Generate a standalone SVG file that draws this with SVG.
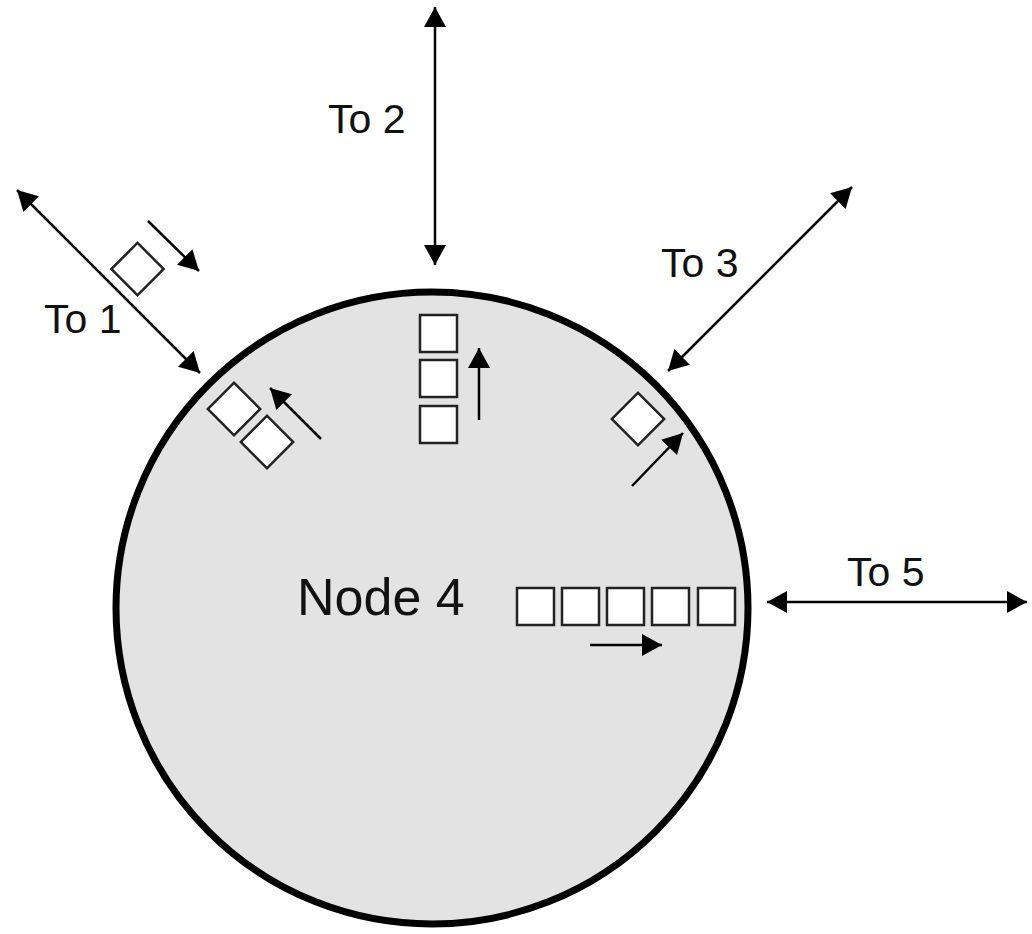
<svg xmlns="http://www.w3.org/2000/svg" width="1032" height="934" viewBox="0 0 1032 934">
<defs>
<marker id="ah" viewBox="0 0 20 22" refX="20" refY="11" markerWidth="20" markerHeight="22" markerUnits="userSpaceOnUse" orient="auto-start-reverse">
<path d="M0,0 L20,11 L0,22 z" fill="#000"/>
</marker>
<style>
.lbl{font-family:"Liberation Sans",Arial,sans-serif;font-size:41px;fill:#111}
.node{font-family:"Liberation Sans",Arial,sans-serif;font-size:52px;fill:#111}
.conn{stroke:#000;stroke-width:2.5;fill:none}
.pkt{fill:#fff;stroke:#222;stroke-width:2.5}
</style>
</defs>
<rect width="1032" height="934" fill="#fff"/>
<g id="node4">
<circle cx="432" cy="608" r="316" fill="#e3e3e3" stroke="#000" stroke-width="7"/>
<text class="node" x="297" y="615">Node 4</text>
</g>
<g id="queue1">
<rect class="pkt" x="-18.5" y="-18.5" width="37" height="37" transform="translate(234 409) rotate(45)"/>
<rect class="pkt" x="-18.5" y="-18.5" width="37" height="37" transform="translate(267 442) rotate(45)"/>
</g>
<g id="queue2">
<rect class="pkt" x="420" y="315" width="37" height="37"/>
<rect class="pkt" x="420" y="360" width="37" height="37"/>
<rect class="pkt" x="420" y="406" width="37" height="37"/>
</g>
<g id="queue3">
<rect class="pkt" x="-18.5" y="-18.5" width="37" height="37" transform="translate(638 419) rotate(45)"/>
</g>
<g id="queue5">
<rect class="pkt" x="517" y="588" width="37" height="37"/>
<rect class="pkt" x="562" y="588" width="37" height="37"/>
<rect class="pkt" x="607" y="588" width="37" height="37"/>
<rect class="pkt" x="652" y="588" width="37" height="37"/>
<rect class="pkt" x="698" y="588" width="37" height="37"/>
</g>
<g id="packet-in-transit">
<rect class="pkt" x="-18.5" y="-18.5" width="37" height="37" transform="translate(137.5 269) rotate(45)"/>
</g>
<g id="labels">
<text class="lbl" x="44" y="333">To 1</text>
<text class="lbl" x="328" y="133">To 2</text>
<text class="lbl" x="661" y="277">To 3</text>
<text class="lbl" x="847" y="586">To 5</text>
</g>
<g id="connectors">
<line class="conn" x1="17" y1="190" x2="200" y2="373" marker-start="url(#ah)" marker-end="url(#ah)"/>
<line class="conn" x1="435" y1="7" x2="435" y2="265" marker-start="url(#ah)" marker-end="url(#ah)"/>
<line class="conn" x1="852" y1="187" x2="668" y2="371" marker-start="url(#ah)" marker-end="url(#ah)"/>
<line class="conn" x1="767" y1="602" x2="1027" y2="602" marker-start="url(#ah)" marker-end="url(#ah)"/>
<line class="conn" x1="148" y1="221" x2="199" y2="271" marker-end="url(#ah)"/>
<line class="conn" x1="321" y1="439" x2="270" y2="388" marker-end="url(#ah)"/>
<line class="conn" x1="479" y1="420" x2="479" y2="348" marker-end="url(#ah)"/>
<line class="conn" x1="632" y1="486" x2="683" y2="433" marker-end="url(#ah)"/>
<line class="conn" x1="590" y1="645" x2="662" y2="645" marker-end="url(#ah)"/>
</g>
</svg>
